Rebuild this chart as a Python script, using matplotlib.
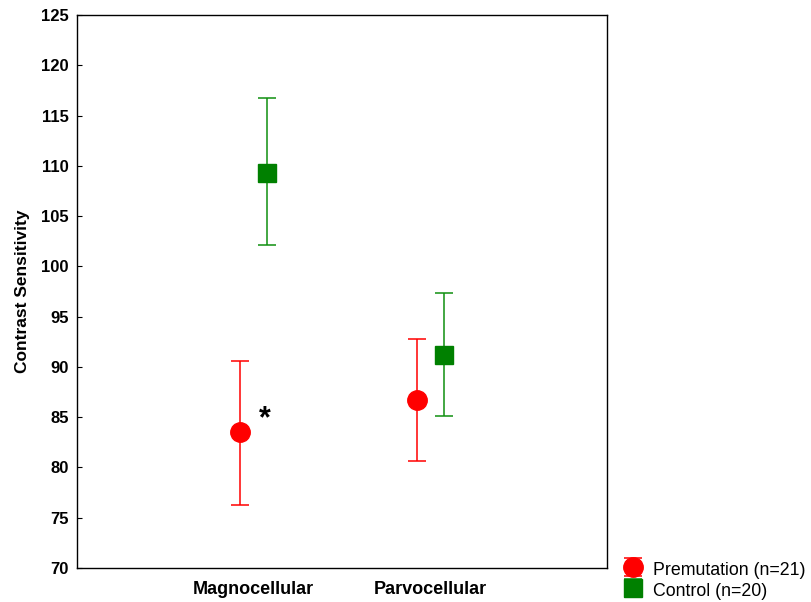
import matplotlib
matplotlib.use("Agg")
import matplotlib.pyplot as plt
import numpy as np

plt.rcParams['font.family'] = ['Liberation Sans', 'DejaVu Sans']

categories = ["Magnocellular", "Parvocellular"]
groups = ["Premutation (n=21)", "Control (n=20)"]
premut_mean = [83.5, 86.7]
premut_low = [76.3, 80.6]
premut_high = [90.6, 92.8]
control_mean = [109.3, 91.2]
control_low = [102.1, 85.1]
control_high = [116.7, 97.4]
yticks = [70, 75, 80, 85, 90, 95, 100, 105, 110, 115, 120, 125]

fig = plt.figure(figsize=(8.12, 6.02), dpi=100)
ax = fig.add_axes([77/812, 1 - 568/602, 530/812, 553/602])

x = np.arange(1, len(categories) + 1)
off = 0.077

pm = np.array(premut_mean)
cm = np.array(control_mean)
yerr_p = [pm - np.array(premut_low), np.array(premut_high) - pm]
yerr_c = [cm - np.array(control_low), np.array(control_high) - cm]

h1 = ax.errorbar(x - off, pm, yerr=yerr_p, fmt='o', color='#ff0000', ecolor='#ff0000',
                 markersize=14, capsize=6.8, elinewidth=1.1, capthick=1.1, label=groups[0])
h2 = ax.errorbar(x + off, cm, yerr=yerr_c, fmt='s', color='#008000', ecolor='#109010',
                 markersize=13.5, capsize=6.8, elinewidth=1.1, capthick=1.1, label=groups[1])

ax.text(1.064, 84.75, "*", fontsize=22, fontweight='bold', ha='center', va='center')

ax.set_xlim(0, 3)
ax.set_ylim(70, 125)
ax.set_yticks(yticks)
ax.set_yticklabels([str(t) for t in yticks], fontweight='bold', fontsize=12)
ax.set_xticks(x)
ax.set_xticklabels(categories, fontweight='bold', fontsize=13)
ax.tick_params(axis='y', direction='in', length=3.5, pad=6)
ax.tick_params(axis='x', length=0, pad=9)
ax.set_ylabel("Contrast Sensitivity", fontweight='bold', fontsize=12.5)
ax.yaxis.set_label_coords(-0.088, 0.5)
for s in ax.spines.values():
    s.set_linewidth(1.0)

fig.legend(handles=[h1, h2], labels=groups, loc='lower left',
           bbox_to_anchor=(608/812, -0.014), frameon=False, fontsize=12.8,
           handlelength=1.6, handleheight=1.2, handletextpad=0.35,
           labelspacing=0.12, borderpad=0.1)

fig.savefig("out.png", dpi=100)
